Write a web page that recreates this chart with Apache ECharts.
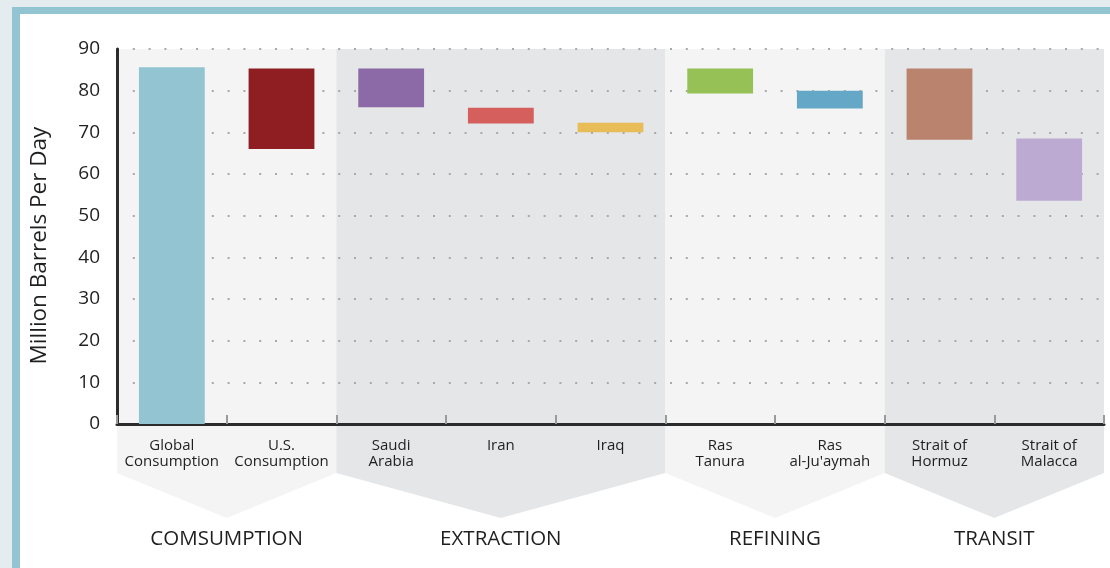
<!DOCTYPE html>
<html>
<head>
<meta charset="utf-8">
<script src="https://cdn.jsdelivr.net/npm/echarts@6/dist/echarts.min.js"></script>
<style>
  html, body { margin: 0; padding: 0; width: 1110px; height: 568px; overflow: hidden; background: #e4ecef; }
  #frame { position: absolute; left: 12px; top: 7px; width: 1200px; height: 700px;
           border-top: 7px solid #93c4d2; border-left: 8px solid #93c4d2; background: #ffffff; }
  #chart { position: absolute; left: 0; top: 0; width: 1110px; height: 568px; }
</style>
</head>
<body>
<div id="frame"></div>
<div id="chart"></div>
<script>
// Stages of the oil supply chain (million barrels per day)
const categories = [
  'Global\nConsumption', 'U.S.\nConsumption', 'Saudi\nArabia', 'Iran', 'Iraq',
  'Ras\nTanura', 'Ras\nal-Ju\'aymah', 'Strait of\nHormuz', 'Strait of\nMalacca'
];
// each bar floats from its low value to its high value
const lowValues  = [0,    66.0, 76.0, 72.1, 70.0, 79.3, 75.7, 68.2, 53.6];
const highValues = [85.6, 85.3, 85.3, 75.9, 72.3, 85.3, 80.0, 85.3, 68.5];
const barColors = ['#93c4d2', '#8f1e22', '#8c6aa8', '#d45f5c', '#e8bd58',
                   '#95c157', '#65a7c6', '#b9836d', '#bdaad2'];

// stage groups spanning the categories
const groupNames = ['COMSUMPTION', 'EXTRACTION', 'REFINING', 'TRANSIT'];
const groupFirst = [0, 2, 5, 7];
const groupLast  = [1, 4, 6, 8];
const groupShade = ['#f4f4f4', '#e5e6e8', '#f4f4f4', '#e5e6e8'];

const yTicks = { min: 0, max: 90, interval: 10 };
const FONT = '"Open Sans", sans-serif';
const TEXT = '#1f1f1f';

const chart = echarts.init(document.getElementById('chart'), null, { renderer: 'canvas' });

const groupData = groupNames.map((n, i) => [groupFirst[i], groupLast[i], i]);

chart.setOption({
  backgroundColor: 'transparent',
  animation: false,
  grid: { left: 117, right: 6, top: 49, bottom: 144, containLabel: false },
  xAxis: {
    type: 'category',
    data: categories,
    boundaryGap: true,
    axisLine: { show: true, lineStyle: { color: '#2b2b2b', width: 3 } },
    axisTick: { show: true, inside: true, length: 9, alignWithLabel: false,
                lineStyle: { color: '#9a9a9a', width: 2 } },
    axisLabel: { color: TEXT, fontFamily: FONT, fontSize: 15, lineHeight: 16,
                 margin: 14, interval: 0 },
    splitLine: { show: false }
  },
  yAxis: {
    type: 'value',
    min: yTicks.min, max: yTicks.max, interval: yTicks.interval,
    name: 'Million Barrels Per Day',
    nameLocation: 'middle',
    nameGap: 66,
    nameRotate: 90,
    nameTextStyle: { color: TEXT, fontFamily: FONT, fontSize: 22.5, padding: [0, 18, 0, 0] },
    axisLine: { show: true, lineStyle: { color: '#2b2b2b', width: 3 } },
    axisTick: { show: false },
    axisLabel: { color: TEXT, fontFamily: FONT, fontSize: 19, margin: 17 },
    splitLine: { show: true, lineStyle: { color: '#a9a9a9', width: 2, type: [2, 13.8] } }
  },
  series: [
    {
      // shaded stage bands with a chevron under the category labels
      type: 'custom',
      z: -1,
      clip: false,
      silent: true,
      data: groupData,
      encode: { x: [0, 1] },
      renderItem: function (params, api) {
        const first = api.value(0), last = api.value(1), gi = api.value(2);
        const w = api.size([1, 0])[0];
        const top = api.coord([first, yTicks.max])[1];
        const base = api.coord([first, yTicks.min])[1];
        const x0 = api.coord([first, 0])[0] - w / 2;
        const x1 = api.coord([last, 0])[0] + w / 2;
        const xm = (x0 + x1) / 2;
        return {
          type: 'group',
          children: [
            {
              type: 'polygon',
              shape: { points: [[x0, top], [x1, top], [x1, base + 49], [xm, base + 94], [x0, base + 49]] },
              style: { fill: groupShade[gi] }
            },
            {
              type: 'text',
              x: xm, y: base + 115,
              style: { text: groupNames[gi], fill: TEXT, font: '20.5px ' + FONT,
                       align: 'center', verticalAlign: 'middle' }
            }
          ]
        };
      }
    },
    {
      name: 'base',
      type: 'bar',
      stack: 'range',
      barWidth: '60%',
      silent: true,
      itemStyle: { color: 'transparent' },
      data: lowValues
    },
    {
      name: 'range',
      type: 'bar',
      stack: 'range',
      barWidth: '60%',
      data: highValues.map((h, i) => ({ value: h - lowValues[i], itemStyle: { color: barColors[i] } }))
    }
  ]
});
</script>
</body>
</html>
